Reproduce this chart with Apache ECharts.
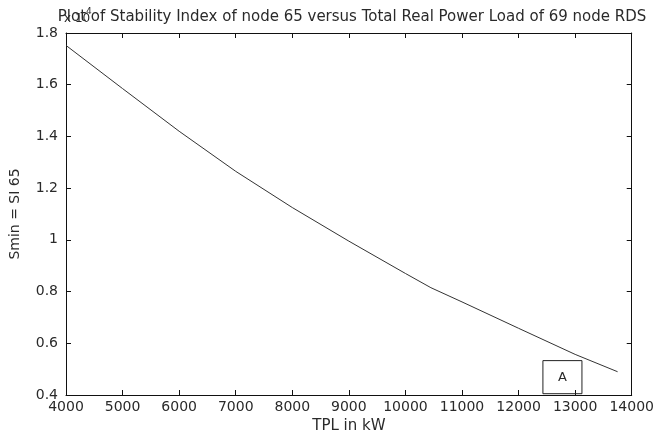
<!DOCTYPE html>
<html>
<head>
<meta charset="utf-8">
<script src="https://cdn.jsdelivr.net/npm/echarts@6/dist/echarts.min.js"></script>
<style>html,body{margin:0;padding:0;background:#fff}#c{width:657px;height:439px}</style>
</head>
<body>
<div id="c"></div>
<script>
var titleText = 'Plot of Stability Index of node 65 versus Total Real Power Load of 69 node RDS';
var xName = 'TPL in kW';
var yName = 'Smin = SI 65';
var tplValues = [4000, 5000, 6000, 7000, 8000, 9000, 10000, 10450, 11000, 12000, 13000, 13750];
var siValues  = [1.752, 1.585, 1.42, 1.265, 1.125, 0.995, 0.87, 0.815, 0.76, 0.658, 0.557, 0.49];
var boxX = [12430, 13120];
var boxY = [0.405, 0.533];
var boxLabel = 'A';

var chart = echarts.init(document.getElementById('c'));
var font = 'DejaVu Sans, sans-serif';
var txt = '#2a2a2a';
var data = tplValues.map(function(x, i){ return [x, siValues[i]]; });
function fmtY(v){ return String(Math.round(v*10)/10); }
function fmtX(v){ return String(Math.round(v)); }
chart.setOption({
  animation: false,
  backgroundColor: '#fff',
  title: { text: titleText, left: 347, top: 5, textAlign: 'center',
    textStyle: { fontFamily: font, fontSize: 15, fontWeight: 'normal', color: txt } },
  grid: { left: 65, right: 25, top: 33, bottom: 39 },
  xAxis: [{
    type: 'value', min: 4000, max: 14000, interval: 1000,
    name: xName, nameLocation: 'middle', nameGap: 24,
    nameTextStyle: { fontFamily: font, fontSize: 15, color: txt },
    axisLine: { show: true, onZero: false, lineStyle: { color: '#111', width: 1 } },
    axisTick: { inside: true, length: 5, lineStyle: { color: '#111' } },
    axisLabel: { fontFamily: font, fontSize: 14, color: txt, margin: 5, formatter: fmtX },
    splitLine: { show: false }
  }, {
    type: 'value', position: 'top', min: 4000, max: 14000, interval: 1000,
    axisLine: { show: true, onZero: false, lineStyle: { color: '#111', width: 1 } },
    axisTick: { inside: true, length: 5, lineStyle: { color: '#111' } },
    axisLabel: { show: false }, splitLine: { show: false }
  }],
  yAxis: [{
    type: 'value', min: 0.4, max: 1.8, interval: 0.2,
    name: yName, nameLocation: 'middle', nameGap: 44, nameRotate: 90,
    nameTextStyle: { fontFamily: font, fontSize: 14, color: txt },
    axisLine: { show: true, onZero: false, lineStyle: { color: '#111', width: 1 } },
    axisTick: { inside: true, length: 5, lineStyle: { color: '#111' } },
    axisLabel: { fontFamily: font, fontSize: 14, color: txt, margin: 8, formatter: fmtY },
    splitLine: { show: false }
  }, {
    type: 'value', position: 'right', min: 0.4, max: 1.8, interval: 0.2,
    axisLine: { show: true, onZero: false, lineStyle: { color: '#111', width: 1 } },
    axisTick: { inside: true, length: 5, lineStyle: { color: '#111' } },
    axisLabel: { show: false }, splitLine: { show: false }
  }],
  graphic: [{
    type: 'text', left: 64, top: 13,
    style: { text: 'x 10', fontFamily: font, fontSize: 12, fill: txt }
  }, {
    type: 'text', left: 86, top: 7,
    style: { text: '4', fontFamily: font, fontSize: 9, fill: txt }
  }],
  series: [{
    type: 'line', data: data, symbol: 'none', smooth: false,
    lineStyle: { color: '#333', width: 1 },
    markArea: {
      silent: true,
      itemStyle: { color: 'rgba(0,0,0,0)', borderColor: '#222', borderWidth: 1 },
      label: { show: true, position: 'inside', formatter: boxLabel,
        fontFamily: font, fontSize: 13, color: txt },
      data: [[{ coord: [boxX[0], boxY[0]] }, { coord: [boxX[1], boxY[1]] }]]
    }
  }]
});
</script>
</body>
</html>
